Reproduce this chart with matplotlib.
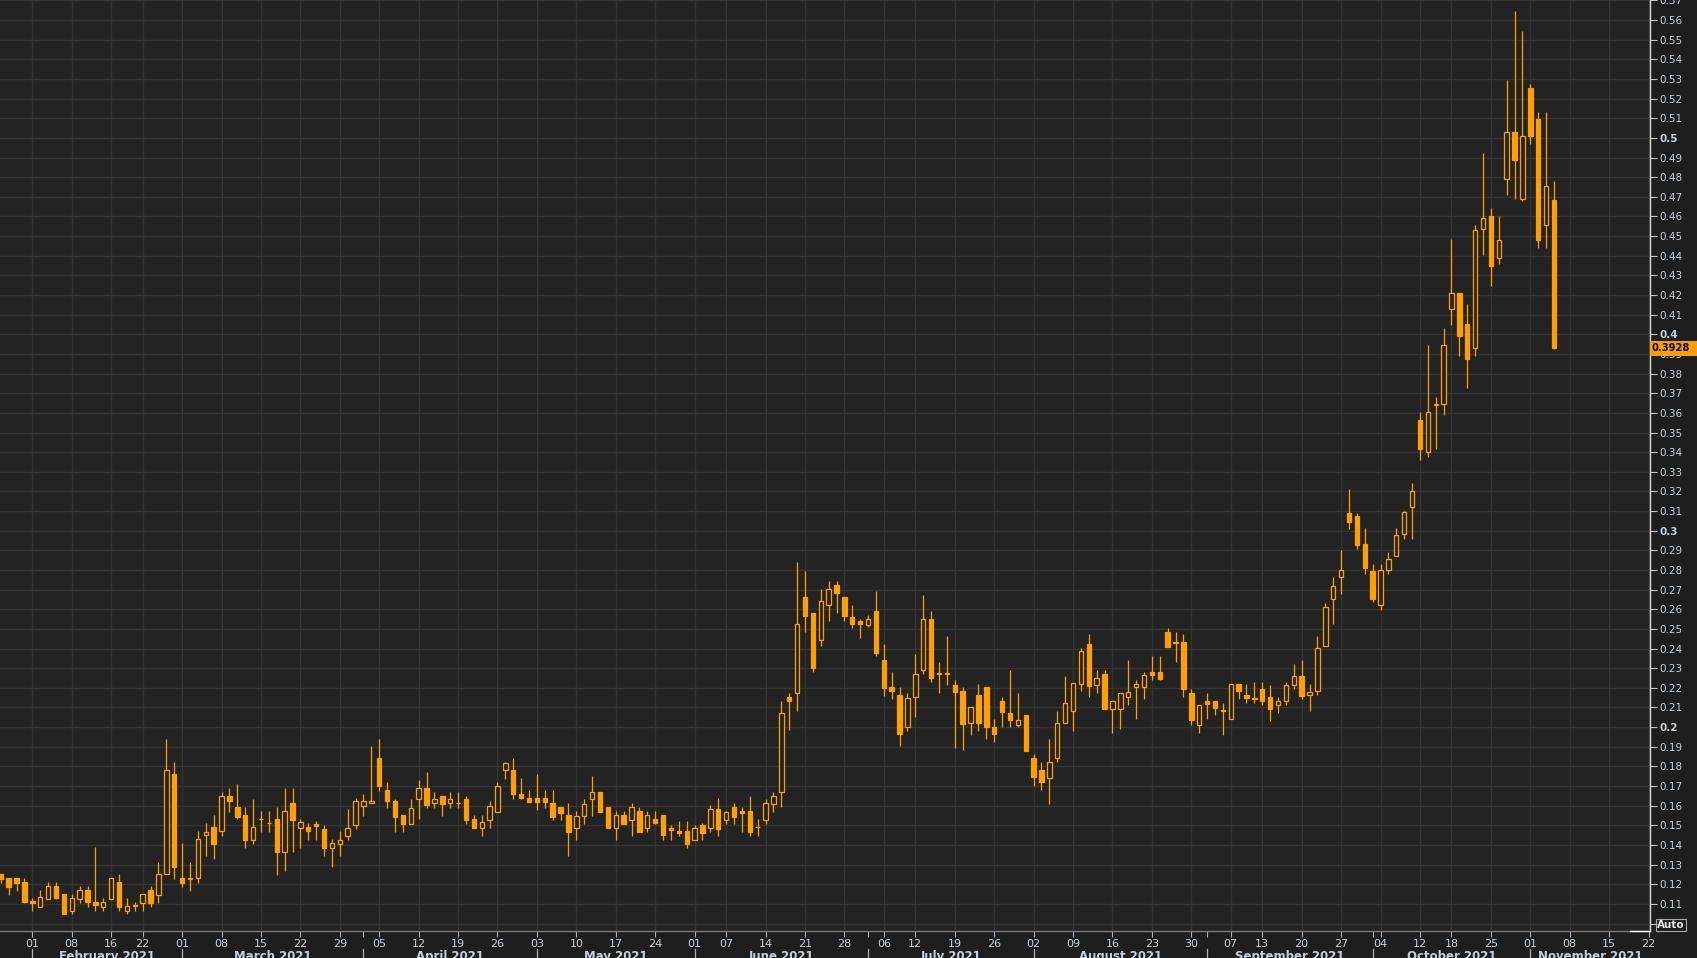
import numpy as np
import pandas as pd
import matplotlib
matplotlib.use("Agg")
import matplotlib.pyplot as plt
from matplotlib.transforms import blended_transform_factory
from matplotlib.patches import Rectangle
from matplotlib.lines import Line2D

# trading calendar of the chart (weekdays minus market holidays)
START, END = "2021-01-26", "2021-11-24"
HOLIDAYS = ["2021-02-15", "2021-05-31", "2021-07-05", "2021-09-06", "2021-10-11"]

# daily OHLC, one value per trading day from 26 Jan to 04 Nov 2021
opens = [
    .1253, .1231, .1231, .1210,
    .1115, .1086, .1127, .1192, .1151, .1066, .1127, .1169, .1110, .1086, .1127, .1212, .1066, .1088, .1107, .1169, .1147, .1251, .1761,
    .1231, .1229, .1231, .1449, .1492, .1469, .1647, .1593, .1553, .1427, .1530, .1510, .1532, .1366, .1614, .1488, .1492, .1507, .1481, .1386, .1407, .1447, .1500,
    .1600, .1612, .1842, .1680, .1624, .1553, .1508, .1632, .1690, .1612, .1647, .1612, .1612, .1634, .1532, .1488, .1529, .1569, .1780, .1781, .1659, .1639,
    .1639, .1639, .1614, .1593, .1553, .1488, .1549, .1632, .1669, .1593, .1488, .1553, .1529, .1573, .1488, .1532, .1553, .1488, .1471, .1471,
    .1427, .1502, .1488, .1583, .1529, .1593, .1573, .1573, .1490, .1529, .1610, .1669, .2153, .2173, .2662, .2581, .2443, .2622, .2723, .2662, .2560, .2542,
    .2518, .2593, .2343, .2206, .2165, .2000, .2153, .2290, .2550, .2277, .2277, .2214, .2185, .2021, .2165, .2206, .2000, .2133, .2071, .2010, .2063,
    .1842, .1783, .1740, .1842, .2021, .2082, .2219, .2423, .2212, .2270, .2090, .2090, .2153, .2204, .2204, .2282, .2282, .2486, .2435, .2435, .2173, .2011,
    .2134, .2134, .2084, .2041, .2219, .2165, .2150, .2196, .2155, .2112, .2131, .2214, .2260, .2163, .2182, .2413, .2650, .2762, .3090, .3073, .2932,
    .2795, .2620, .2798, .2869, .2981, .3119, .3564, .3399, .3640, .3643, .4130, .4211, .4050, .3931, .4535, .4600, .4388, .4790, .5031, .4688,
    .5252, .5094, .4558, .4682,
]
highs = [
    .1253, .1231, .1231, .1231,
    .1129, .1171, .1212, .1212, .1151, .1151, .1192, .1192, .1390, .1129, .1231, .1253, .1129, .1110, .1151, .1192, .1314, .1939, .1822,
    .1408, .1314, .1471, .1512, .1553, .1669, .1692, .1710, .1593, .1634, .1573, .1573, .1593, .1690, .1690, .1532, .1512, .1524, .1502, .1431, .1471, .1585, .1637,
    .1659, .1903, .1939, .1720, .1634, .1553, .1634, .1731, .1771, .1669, .1647, .1669, .1669, .1647, .1553, .1553, .1624, .1720, .1822, .1842, .1741, .1680,
    .1761, .1680, .1680, .1593, .1614, .1573, .1634, .1751, .1669, .1593, .1573, .1573, .1614, .1593, .1573, .1573, .1553, .1502, .1524, .1524,
    .1502, .1512, .1603, .1641, .1573, .1614, .1593, .1649, .1532, .1634, .1669, .2133, .2173, .2841, .2796, .2581, .2703, .2744, .2744, .2662, .2622, .2552,
    .2571, .2695, .2423, .2280, .2206, .2173, .2372, .2674, .2593, .2331, .2464, .2241, .2206, .2102, .2221, .2206, .2041, .2153, .2292, .2173, .2063,
    .1863, .1822, .1939, .2082, .2262, .2224, .2404, .2474, .2292, .2292, .2133, .2173, .2343, .2241, .2282, .2364, .2364, .2506, .2486, .2476, .2194, .2112,
    .2175, .2134, .2124, .2219, .2219, .2219, .2231, .2231, .2216, .2155, .2231, .2323, .2343, .2219, .2464, .2634, .2764, .2902, .3212, .3090, .3014,
    .2830, .2830, .2891, .3014, .3100, .3243, .3604, .3946, .3681, .4030, .4483, .4211, .4152, .4559, .4921, .4641, .4600, .5293, .5644, .5542,
    .5272, .5130, .5130, .4783,
]
lows = [
    .1208, .1146, .1168, .1107,
    .1066, .1086, .1127, .1127, .1051, .1051, .1107, .1086, .1066, .1066, .1127, .1066, .1051, .1066, .1066, .1086, .1107, .1251, .1229,
    .1188, .1168, .1208, .1346, .1331, .1447, .1569, .1530, .1386, .1407, .1468, .1468, .1249, .1269, .1366, .1386, .1427, .1427, .1346, .1290, .1346, .1427, .1480,
    .1549, .1612, .1676, .1590, .1468, .1468, .1508, .1530, .1590, .1590, .1549, .1590, .1590, .1508, .1488, .1447, .1488, .1569, .1737, .1634, .1634, .1620,
    .1580, .1590, .1529, .1529, .1346, .1427, .1508, .1549, .1569, .1488, .1427, .1508, .1447, .1468, .1468, .1508, .1427, .1427, .1447, .1386,
    .1427, .1427, .1468, .1447, .1508, .1508, .1468, .1447, .1447, .1508, .1569, .1591, .1987, .2080, .2482, .2279, .2411, .2538, .2579, .2538, .2503, .2452,
    .2508, .2360, .2161, .2141, .1902, .1978, .2049, .2268, .2228, .2172, .2212, .1892, .1881, .1958, .1978, .1937, .1922, .2000, .2000, .2000, .1876,
    .1700, .1678, .1611, .1820, .2021, .1978, .2182, .2151, .2172, .2090, .1968, .1988, .2111, .2039, .2141, .2241, .2238, .2406, .2330, .2151, .2009, .1968,
    .2039, .2060, .1958, .2041, .2141, .2121, .2121, .2111, .2029, .2070, .2111, .2192, .2141, .2080, .2163, .2413, .2526, .2679, .3010, .2908, .2781,
    .2637, .2598, .2781, .2869, .2959, .2959, .3362, .3377, .3418, .3591, .4047, .3889, .3728, .3889, .4406, .4245, .4357, .4709, .4688, .4678,
    .4968, .4439, .4439, .3923,
]
closes = [
    .1229, .1188, .1208, .1112,
    .1107, .1134, .1192, .1132, .1051, .1129, .1169, .1112, .1092, .1110, .1231, .1086, .1088, .1090, .1151, .1107, .1253, .1781, .1290,
    .1208, .1233, .1431, .1464, .1407, .1647, .1625, .1544, .1427, .1492, .1532, .1512, .1366, .1573, .1529, .1517, .1473, .1498, .1386, .1408, .1424, .1485, .1624,
    .1622, .1622, .1702, .1625, .1544, .1508, .1586, .1690, .1605, .1632, .1610, .1632, .1614, .1529, .1488, .1515, .1597, .1698, .1817, .1661, .1641, .1620,
    .1620, .1620, .1544, .1564, .1468, .1546, .1607, .1669, .1569, .1488, .1553, .1508, .1593, .1468, .1553, .1512, .1453, .1478, .1463, .1407,
    .1486, .1463, .1583, .1481, .1568, .1544, .1564, .1468, .1492, .1614, .1649, .2071, .2131, .2525, .2564, .2299, .2642, .2703, .2683, .2564, .2523, .2523,
    .2550, .2375, .2197, .2182, .1963, .2148, .2270, .2550, .2248, .2268, .2268, .2177, .2014, .2102, .2021, .2000, .1963, .2075, .2034, .2036, .1876,
    .1745, .1723, .1822, .2021, .2122, .2224, .2387, .2207, .2250, .2090, .2133, .2173, .2178, .2219, .2265, .2265, .2243, .2406, .2426, .2192, .2034, .2112,
    .2116, .2095, .2082, .2219, .2182, .2146, .2141, .2131, .2090, .2133, .2214, .2260, .2157, .2179, .2403, .2612, .2716, .2798, .3046, .2929, .2812,
    .2654, .2798, .2854, .2976, .3093, .3200, .3418, .3603, .3643, .3946, .4211, .3990, .3872, .4529, .4593, .4350, .4478, .5031, .4885, .5011,
    .5009, .4479, .4756, .3928,
]

ORANGE = "#ff9f00"
FIG_BG = "#1e1e1e"
AX_BG = "#222322"
GRID = "#333433"
TXT = "#c8cfd6"

days = pd.bdate_range(START, END)
days = days[~days.isin(pd.to_datetime(HOLIDAYS))]

o = np.array(opens)
h = np.array(highs)
l = np.array(lows)
c = np.array(closes)
x = np.arange(len(o))

fig = plt.figure(figsize=(16.97, 9.58), dpi=100, facecolor=FIG_BG)
ax = fig.add_axes([0, 27 / 958, 1650 / 1697, 931 / 958], facecolor=AX_BG)

# candles: wick first, body on top (hollow = up day, filled = down day)
ax.vlines(x, l, h, color=ORANGE, lw=0.9, zorder=3)
up = c >= o
bottom = np.minimum(o, c)
height = np.maximum(np.abs(c - o), 0.0004)
ax.bar(x[up], height[up], bottom=bottom[up], width=0.56,
       facecolor=AX_BG, edgecolor=ORANGE, lw=0.9, zorder=4)
ax.bar(x[~up], height[~up], bottom=bottom[~up], width=0.56,
       facecolor=ORANGE, edgecolor=ORANGE, lw=0.9, zorder=4)

ax.set_xlim(-0.1, 209.18)
ax.set_ylim(0.0962, 0.5702)

# y axis on the right, one tick per cent
yt = np.round(np.arange(0.10, 0.575, 0.01), 2)
ylabels = []
for v in yt:
    if abs(v - 0.10) < 1e-9:
        ylabels.append("")
    elif round(v * 100) % 10 == 0:
        ylabels.append(f"{v:.1f}")
    else:
        ylabels.append(f"{v:.2f}")
ax.yaxis.tick_right()
ax.set_yticks(yt)
ax.set_yticklabels(ylabels)
for lbl, v in zip(ax.get_yticklabels(), yt):
    if round(v * 100) % 10 == 0:
        lbl.set_fontweight("bold")
        lbl.set_color("#e6eaee")
ax.tick_params(axis="y", direction="out", length=5, width=0.8, color="#c8c8c8",
               pad=2, labelsize=7.5, labelcolor=TXT)

# x axis: first trading day of each week
week_idx = [i for i in range(1, len(days)) if days[i].isocalendar()[1] != days[i - 1].isocalendar()[1]]
ax.set_xticks(week_idx)
ax.set_xticklabels([days[i].strftime("%d") for i in week_idx])
month_idx = [i for i in range(1, len(days)) if days[i].month != days[i - 1].month]
ax.set_xticks(month_idx, minor=True)
ax.tick_params(axis="x", which="both", direction="out", length=4, width=0.8,
               color="#b0b0b0", pad=1.5, labelsize=8, labelcolor=TXT)

ax.grid(True, which="major", color=GRID, lw=1.0, zorder=0)
ax.set_axisbelow(True)

for side in ["top", "left"]:
    ax.spines[side].set_visible(False)
ax.spines["right"].set_color("#d8d8d8")
ax.spines["right"].set_linewidth(1.0)
ax.spines["bottom"].set_color("#7a7a7a")
ax.spines["bottom"].set_linewidth(1.0)

# month names centred on their span, separators under the day labels
bt = blended_transform_factory(ax.transData, ax.transAxes)
right_edge = ax.get_xlim()[1]
for k, s in enumerate(month_idx):
    e = month_idx[k + 1] if k + 1 < len(month_idx) else right_edge
    ax.text((s + e) / 2, -0.0205, days[s].strftime("%B %Y"), transform=bt,
            ha="center", va="top", fontsize=8.5, fontweight="bold", color=TXT,
            clip_on=False)
    ax.plot([s, s], [-0.0195, -0.035], transform=bt, color="#b0b0b0", lw=0.9,
            clip_on=False)

# last price tag
last = closes[-1]
rt = blended_transform_factory(ax.transAxes, ax.transData)
ax.add_patch(Rectangle((1.0, last - 0.0036), 47 / 1650, 0.0072, transform=rt,
                       facecolor=ORANGE, edgecolor="none", clip_on=False, zorder=10))
ax.text(1.0 + 1.5 / 1650, last, f"{last:.4f}", transform=rt, ha="left", va="center",
        fontsize=7.2, fontweight="bold", color="black", clip_on=False, zorder=11)

fig.text(1657 / 1697, 1 - 925 / 958, "Auto", ha="left", va="center", fontsize=7.5,
         fontweight="bold", color="#e8e8e8",
         bbox=dict(boxstyle="square,pad=0.12", fc="none", ec="#a8a8a8", lw=0.8))
fig.add_artist(Line2D([1630 / 1697, 1650 / 1697], [27 / 958, 27 / 958],
                      color="white", lw=1.0))

fig.savefig("out.png", dpi=100, facecolor=FIG_BG)
